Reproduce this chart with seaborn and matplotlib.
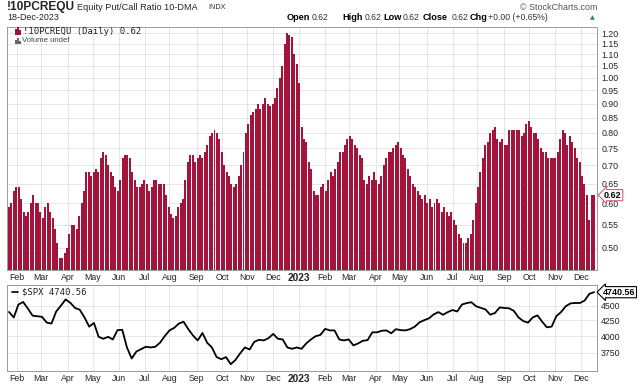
import numpy as np
import pandas as pd
import matplotlib
matplotlib.use("Agg")
import matplotlib.pyplot as plt
import matplotlib.transforms as mtransforms
from matplotlib.patches import Rectangle
from matplotlib.lines import Line2D
from matplotlib.ticker import FixedLocator, NullLocator, FuncFormatter
import seaborn as sns

# data
start_day = "2022-01-21"
end_day = "2023-12-18"

# !10PCREQU 10-DMA, one value every ~2 trading days
pcr_values = [
    0.59, 0.60, 0.63, 0.64, 0.64, 0.61, 0.58, 0.57, 0.58, 0.60,
    0.62, 0.60, 0.60, 0.58, 0.565, 0.59, 0.60, 0.58, 0.565, 0.54,
    0.51, 0.48, 0.48, 0.49, 0.50, 0.53, 0.55, 0.55, 0.54, 0.57,
    0.60, 0.63, 0.68, 0.68, 0.67, 0.68, 0.69, 0.68, 0.72, 0.74,
    0.73, 0.70, 0.68, 0.67, 0.64, 0.63, 0.66, 0.72, 0.73, 0.73,
    0.72, 0.68, 0.66, 0.64, 0.64, 0.65, 0.66, 0.65, 0.63, 0.64,
    0.66, 0.66, 0.65, 0.65, 0.65, 0.62, 0.59, 0.575, 0.565, 0.57,
    0.59, 0.60, 0.61, 0.66, 0.71, 0.73, 0.73, 0.71, 0.72, 0.73,
    0.72, 0.74, 0.76, 0.79, 0.80, 0.81, 0.80, 0.78, 0.74, 0.70,
    0.68, 0.67, 0.65, 0.64, 0.65, 0.67, 0.70, 0.74, 0.80, 0.83,
    0.86, 0.87, 0.88, 0.90, 0.88, 0.90, 0.92, 0.90, 0.89, 0.90,
    0.92, 0.96, 1.00, 1.05, 1.15, 1.20, 1.19, 1.18, 1.10, 1.06,
    0.98, 0.82, 0.78, 0.77, 0.71, 0.69, 0.63, 0.62, 0.62, 0.64,
    0.65, 0.63, 0.66, 0.68, 0.67, 0.69, 0.71, 0.74, 0.74, 0.76,
    0.78, 0.79, 0.78, 0.76, 0.75, 0.73, 0.72, 0.66, 0.65, 0.67,
    0.66, 0.68, 0.66, 0.65, 0.67, 0.70, 0.72, 0.74, 0.74, 0.75,
    0.76, 0.77, 0.75, 0.73, 0.72, 0.69, 0.67, 0.65, 0.64, 0.63,
    0.62, 0.61, 0.62, 0.60, 0.61, 0.59, 0.60, 0.61, 0.60, 0.58,
    0.59, 0.58, 0.57, 0.58, 0.56, 0.55, 0.53, 0.52, 0.51, 0.51,
    0.52, 0.53, 0.56, 0.60, 0.64, 0.68, 0.72, 0.76, 0.77, 0.80,
    0.81, 0.82, 0.78, 0.77, 0.78, 0.76, 0.76, 0.81, 0.81, 0.81,
    0.81, 0.81, 0.79, 0.80, 0.83, 0.84, 0.82, 0.80, 0.80, 0.78,
    0.75, 0.74, 0.74, 0.72, 0.72, 0.72, 0.72, 0.74, 0.78, 0.81,
    0.80, 0.76, 0.79, 0.77, 0.75, 0.72, 0.71, 0.67, 0.65, 0.62,
    0.56, 0.62, 0.62,
]

# $SPX, one value every ~4 trading days
spx_values = [
    4392, 4300, 4520, 4565, 4450, 4330, 4320, 4310, 4215, 4200,
    4400, 4500, 4610, 4550, 4460, 4430, 4300, 4150, 4210, 3990,
    3960, 3990, 3950, 4095, 4100, 3830, 3670, 3770, 3805, 3840,
    3830, 3840, 3900, 4000, 4090, 4130, 4200, 4230, 4110, 4010,
    3935, 4050, 3900, 3830, 3690, 3660, 3690, 3590, 3650, 3745,
    3830, 3800, 3915, 3945, 3935, 3970, 4035, 3960, 3950, 3830,
    3810, 3830, 3810, 3890, 3950, 4000, 4020, 4115, 4090, 4090,
    3950, 3935, 3950, 3860, 3890, 3930, 3940, 4060, 4060, 4085,
    4090, 4045, 4110, 4095, 4090, 4110, 4150, 4220, 4255, 4285,
    4350, 4390, 4345, 4390, 4425, 4400, 4520, 4545, 4560, 4490,
    4462, 4435, 4345, 4375, 4470, 4460, 4455, 4410, 4300, 4240,
    4215, 4300, 4335, 4230, 4140, 4150, 4320, 4390, 4490, 4540,
    4547, 4547, 4590, 4710, 4740.56,
]

pcr_ticks = [0.50, 0.55, 0.60, 0.65, 0.70, 0.75, 0.80, 0.85, 0.90, 0.95,
             1.00, 1.05, 1.10, 1.15, 1.20]
spx_ticks = [3750, 4000, 4250, 4500]
pcr_last = 0.62
spx_last = 4740.56

BAR_RED = "#a3133a"
GRID = "#e2e2e2"
FRAME = "#9a9a9a"

sns.set_theme(style="white")
plt.rcParams["font.family"] = ["Liberation Sans", "DejaVu Sans"]

days = pd.bdate_range(start_day, end_day)
n_days = len(days)
pcr_pos = np.linspace(0, n_days - 1, len(pcr_values))
spx_pos = np.linspace(0, n_days - 1, len(spx_values))

month_idx = [i for i in range(1, n_days) if days[i].month != days[i - 1].month]
month_lbl = ["2023" if days[i].month == 1 else days[i].strftime("%b") for i in month_idx]

fig = plt.figure(figsize=(6.4, 3.84), dpi=100)
fig.patch.set_facecolor("white")

ax1 = fig.add_axes([7 / 640, 1 - 270 / 384, 590 / 640, 243 / 384])
ax2 = fig.add_axes([7 / 640, 1 - 371 / 384, 590 / 640, 86 / 384])

# --- top panel: put/call ratio bars
pcr_df = pd.DataFrame({"pos": pcr_pos, "ratio": pcr_values})
sns.barplot(data=pcr_df, x="pos", y="ratio", native_scale=True, color=BAR_RED,
            saturation=1, width=0.82, linewidth=0, errorbar=None, ax=ax1)
ax1.set_yscale("log")
ax1.set_ylim(0.457, 1.23)

# --- bottom panel: SPX line
spx_df = pd.DataFrame({"pos": spx_pos, "spx": spx_values})
sns.lineplot(data=spx_df, x="pos", y="spx", color="black", linewidth=1.3, ax=ax2)
ax2.set_yscale("log")
ax2.set_ylim(3497, 4874)

for ax, ticks, fmt in [(ax1, pcr_ticks, "{:.2f}"), (ax2, spx_ticks, "{:.0f}")]:
    ax.set_xlim(-1.7, n_days - 1 + 2.5)
    ax.set_xlabel("")
    ax.set_ylabel("")
    ax.yaxis.tick_right()
    ax.yaxis.set_major_locator(FixedLocator(ticks))
    ax.yaxis.set_minor_locator(NullLocator())
    ax.yaxis.set_major_formatter(FuncFormatter(lambda v, p, f=fmt: f.format(v)))
    ax.xaxis.set_major_locator(FixedLocator(month_idx))
    ax.set_xticklabels(month_lbl)
    ax.tick_params(axis="both", length=0, labelsize=6.3, colors="#222222", pad=3)
    ax.tick_params(axis="x", pad=2.5)
    for lbl in ax.get_xticklabels():
        if lbl.get_text() == "2023":
            lbl.set_fontweight("bold")
            lbl.set_fontsize(7.3)
    ax.grid(True, color=GRID, linewidth=0.6)
    ax.set_axisbelow(True)
    for sp in ax.spines.values():
        sp.set_visible(True)
        sp.set_color(FRAME)
        sp.set_linewidth(0.7)

# last value tags on the right axis
tr1 = mtransforms.blended_transform_factory(ax1.transAxes, ax1.transData)
ax1.text(1.012, pcr_last, f"{pcr_last:.2f}", transform=tr1, fontsize=6.5,
         fontweight="bold", va="center", ha="left", color="black",
         bbox=dict(boxstyle="larrow,pad=0.12", fc="white", ec="#d0607a", lw=0.8))
tr2 = mtransforms.blended_transform_factory(ax2.transAxes, ax2.transData)
ax2.text(1.010, spx_last, f"{spx_last:.2f}", transform=tr2, fontsize=6.5,
         fontweight="bold", va="center", ha="left", color="black",
         bbox=dict(boxstyle="larrow,pad=0.12", fc="white", ec="black", lw=0.8))

# header texts
def px(x, y):
    return x / 640, 1 - y / 384

fig.text(*px(7, 7), "!10PCREQU", fontsize=8.6, fontweight="bold", va="center")
fig.text(*px(77, 7), "Equity Put/Call Ratio 10-DMA", fontsize=6.6, va="center")
fig.text(*px(208, 7.5), "INDX", fontsize=5.2, va="center", color="#333333")
fig.text(*px(7, 18), "18-Dec-2023", fontsize=6.4, va="center", color="#222222")
fig.text(*px(597, 7), "\u00a9 StockCharts.com", fontsize=6.4, va="center",
         ha="right", color="#555555")

header = [(287, "Open", True), (312, "0.62", False), (342, "High", True),
          (365, "0.62", False), (383, "Low", True), (403, "0.62", False),
          (423, "Close", True), (452, "0.62", False), (470, "Chg", True),
          (488, "+0.00 (+0.65%)", False)]
for x, s, bold in header:
    fig.text(*px(x, 18), s, fontsize=6.6 if bold else 6.2, va="center",
             fontweight="bold" if bold else "normal", color="black" if bold else "#333333")
fig.text(*px(590, 18), "\u25b2", fontsize=4.5, va="center", color="#2e8b3a",
         family=["DejaVu Sans"])

# panel legends
for k, (x, h) in enumerate([(15, 6), (17, 8), (19, 5)]):
    fig.patches.append(Rectangle(px(x, 35), 1.5 / 640, h / 384, transform=fig.transFigure,
                                 fc=BAR_RED, ec="none"))
fig.text(*px(23, 31.5), "!10PCREQU (Daily) 0.62", fontsize=6.4, va="center",
         family=["DejaVu Sans Mono"], color="#222222")
for k, (x, h) in enumerate([(15, 4), (17, 6), (19, 3)]):
    fig.patches.append(Rectangle(px(x, 44), 1.5 / 640, h / 384, transform=fig.transFigure,
                                 fc="#666666", ec="none"))
fig.text(*px(22, 40.5), "Volume undef", fontsize=5.6, va="center", color="#444444")

fig.lines.append(Line2D([12 / 640, 18 / 640], [1 - 292 / 384] * 2, transform=fig.transFigure,
                        color="black", lw=1.2))
fig.text(*px(22, 292), "$SPX 4740.56", fontsize=6.4, va="center",
         family=["DejaVu Sans Mono"], color="#222222")

fig.savefig("out.png", dpi=100, facecolor="white")
